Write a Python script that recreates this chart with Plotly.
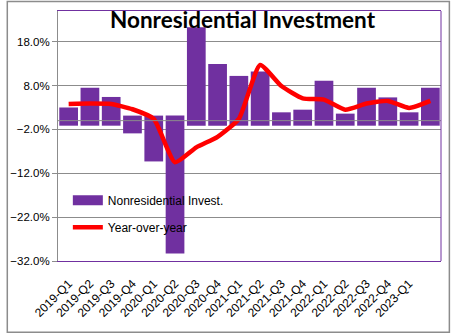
import plotly.graph_objects as go

# ---- data ----
quarters = ["2019-Q1", "2019-Q2", "2019-Q3", "2019-Q4",
            "2020-Q1", "2020-Q2", "2020-Q3", "2020-Q4",
            "2021-Q1", "2021-Q2", "2021-Q3", "2021-Q4",
            "2022-Q1", "2022-Q2", "2022-Q3", "2022-Q4",
            "2023-Q1", "2023-Q2"]
tick_labels = quarters[:17]
nonres_invest = [3.0, 7.5, 5.4, -2.9, -9.3, -30.3, 21.3, 12.9, 10.2, 11.2,
                 1.9, 2.5, 9.1, 1.6, 7.5, 5.3, 1.9, 7.5]
year_over_year = [3.8, 3.9, 3.8, 2.6, 0.4, -9.5, -6.1, -3.7, 0.4, 12.7,
                  7.9, 5.1, 4.8, 2.5, 3.9, 4.5, 2.9, 4.5]

# ---- style ----
PURPLE = "#7030A0"
RED = "#FF0000"
GRID = "#8C8C8C"
FONT = "Liberation Sans, Arial, sans-serif"
OVERLAP = 1.15  # bars in the reference extend slightly past the zero line

bar_base = [-OVERLAP if v >= 0 else OVERLAP for v in nonres_invest]
bar_len = [v - b for v, b in zip(nonres_invest, bar_base)]

fig = go.Figure()
fig.add_trace(go.Bar(
    x=quarters, y=bar_len, base=bar_base,
    marker=dict(color=PURPLE, line=dict(width=0)),
    name="Nonresidential Invest.", showlegend=False,
))
fig.add_trace(go.Scatter(
    x=quarters, y=year_over_year, mode="lines",
    line=dict(color=RED, width=4.5, shape="spline", smoothing=0.5),
    name="Year-over-year", legend="legend2",
))
# legend entry for the bars (wide swatch like the reference)
fig.add_trace(go.Scatter(
    x=[None], y=[None], mode="lines",
    line=dict(color=PURPLE, width=12),
    name="Nonresidential Invest.", legend="legend",
))

L, R, T, B = 52, 10, 10, 73
W, H = 451, 334
pw, ph = W - L - R, H - T - B

def px_x(px):
    return (px - L) / pw

def px_y(py):
    return (H - B - py) / ph

fig.update_layout(
    width=W, height=H,
    margin=dict(l=L, r=R, t=T, b=B, pad=0),
    paper_bgcolor="white", plot_bgcolor="white",
    bargap=0.12,
    title=dict(text="<b>Nonresidential Investment</b>",
               font=dict(family="Lato, sans-serif", size=22.5, color="black"),
               x=242.5 / W, xanchor="center", xref="container",
               y=1 - 20 / H, yanchor="middle", yref="container"),
    font=dict(family=FONT, size=12, color="black"),
    xaxis=dict(
        type="category",
        tickmode="array", tickvals=tick_labels, ticktext=tick_labels,
        tickangle=-45, tickfont=dict(size=12),
        showline=True, linecolor=PURPLE, linewidth=1, mirror=True,
        showgrid=False, ticks="outside", ticklen=10, tickcolor="rgba(0,0,0,0)",
        range=[-0.5, 17.5],
    ),
    yaxis=dict(
        range=[-32, 25],
        tick0=-32, dtick=10, tickformat=".1f", ticksuffix="%",
        tickfont=dict(size=11.5),
        showgrid=True, gridcolor=GRID, gridwidth=1,
        zeroline=False,
        showline=True, linecolor=GRID, linewidth=1,
        ticks="outside", ticklen=5, tickcolor=GRID,
    ),
    legend=dict(x=px_x(62), y=px_y(200), xanchor="left", yanchor="middle",
                bgcolor="rgba(0,0,0,0)", font=dict(size=12)),
    legend2=dict(x=px_x(62), y=px_y(227), xanchor="left", yanchor="middle",
                 bgcolor="rgba(0,0,0,0)", font=dict(size=12)),
    shapes=[
        dict(type="line", xref="paper", yref="y", x0=0, x1=1, y0=0, y1=0,
             line=dict(color=GRID, width=1), layer="above"),
        dict(type="line", xref="paper", yref="paper", x0=1, x1=1, y0=0, y1=1,
             line=dict(color=PURPLE, width=1), layer="above"),
        dict(type="rect", xref="paper", yref="paper",
             x0=px_x(0.5), x1=px_x(449.5), y0=px_y(332.5), y1=px_y(0.5),
             line=dict(color="#8C8C8C", width=1.5), layer="above"),
    ],
)

fig.write_html("out.html")
